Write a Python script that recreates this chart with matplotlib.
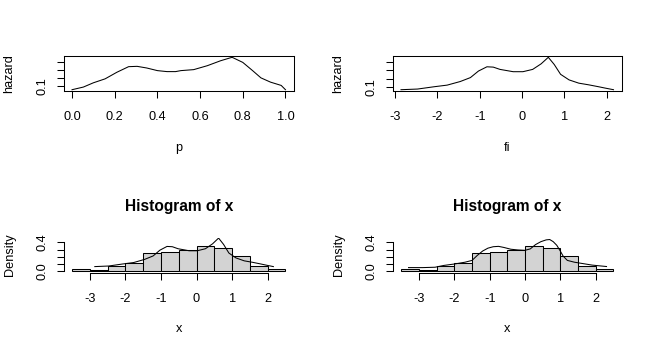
import matplotlib
matplotlib.use("Agg")
import matplotlib.pyplot as plt
import numpy as np

plt.rcParams['font.family'] = ['Liberation Sans', 'DejaVu Sans']

# ---- data ----
p = [0.0, 0.053, 0.10, 0.155, 0.21, 0.265, 0.305, 0.35, 0.40, 0.445, 0.485,
     0.51, 0.57, 0.634, 0.696, 0.75, 0.80, 0.846, 0.885, 0.93, 0.98, 1.0]
hazard_p = [0.06, 0.092, 0.144, 0.192, 0.272, 0.34, 0.344, 0.324, 0.292, 0.28, 0.28,
            0.292, 0.304, 0.352, 0.412, 0.454, 0.392, 0.292, 0.204, 0.152, 0.112, 0.06]

fi = [-2.86, -2.47, -2.08, -1.77, -1.46, -1.22, -1.03, -0.83, -0.68, -0.52, -0.21,
      0.02, 0.25, 0.45, 0.62, 0.76, 0.91, 1.11, 1.34, 1.57, 1.81, 1.96, 2.16]
hazard_fi = [0.064, 0.072, 0.10, 0.12, 0.164, 0.212, 0.292, 0.344, 0.34, 0.312, 0.284,
             0.284, 0.312, 0.38, 0.46, 0.372, 0.252, 0.184, 0.144, 0.124, 0.10, 0.084, 0.064]

hist_breaks = [-3.5, -3.0, -2.5, -2.0, -1.5, -1.0, -0.5, 0.0, 0.5, 1.0, 1.5, 2.0, 2.5]
hist_density = [0.024, 0.02, 0.076, 0.12, 0.247, 0.262, 0.29, 0.345, 0.316, 0.209, 0.078, 0.024]

x2 = [-3.3, -2.9, -2.55, -2.3, -2.0, -1.7, -1.5, -1.35, -1.2, -1.05, -0.9, -0.75, -0.6,
      -0.4, -0.2, 0.0, 0.15, 0.3, 0.45, 0.6, 0.7, 0.8, 0.9, 1.0, 1.08, 1.2, 1.4, 1.65,
      1.9, 2.1, 2.31]
dens2 = [0.05, 0.05, 0.055, 0.08, 0.1, 0.125, 0.15, 0.22, 0.28, 0.32, 0.34, 0.345, 0.33,
         0.305, 0.295, 0.29, 0.31, 0.37, 0.41, 0.435, 0.44, 0.41, 0.36, 0.28, 0.21, 0.15,
         0.125, 0.105, 0.085, 0.075, 0.065]

top_xticks_p = [0.0, 0.2, 0.4, 0.6, 0.8, 1.0]
top_xticks_fi = [-3, -2, -1, 0, 1, 2]
top_yticks = [0.1, 0.2, 0.3, 0.4]
top_ylabels = ["0.1", "", "", ""]
hist_xticks = [-3, -2, -1, 0, 1, 2]
hist_yticks = [0.0, 0.1, 0.2, 0.3, 0.4]
hist_ylabels = ["0.0", "", "", "", "0.4"]

# ---- layout ----
W, H = 655, 354
fig = plt.figure(figsize=(W / 100, H / 100), dpi=100)
FS = 9.2
LW = 0.75


def ax_px(x0, y0, x1, y1):
    return fig.add_axes([x0 / W, 1 - y1 / H, (x1 - x0) / W, (y1 - y0) / H])


def style(ax, box=True):
    for s in ax.spines.values():
        s.set_linewidth(LW)
    if not box:
        ax.spines['top'].set_visible(False)
        ax.spines['right'].set_visible(False)
    ax.tick_params(length=5, width=LW, labelsize=FS, direction='out')
    ax.tick_params(axis='x', pad=9.5)
    ax.tick_params(axis='y', pad=6)
    ax.patch.set_alpha(0)


def labels(ax, xlabel, ylabel, h_px, w_px):
    ax.set_xlabel(xlabel, fontsize=FS)
    ax.set_ylabel(ylabel, fontsize=FS)
    ax.xaxis.set_label_coords(0.5, -57 / h_px)
    ax.xaxis.label.set_va('center')
    ax.yaxis.set_label_coords(-54 / w_px, 0.5)
    ax.yaxis.label.set_va('center')
    ax.yaxis.label.set_ha('center')


def rot_ylabels(ax, ticks, labs):
    ax.set_yticks(ticks)
    ax.set_yticklabels(labs, rotation=90, va='center', ha='right')


# top-left
ax1 = ax_px(63.5, 56, 294, 91)
ax1.plot(p, hazard_p, color='black', lw=LW)
ax1.margins(x=0.04, y=0.04)
ax1.set_xticks(top_xticks_p)
ax1.set_xticklabels([f"{v:.1f}" for v in top_xticks_p])
rot_ylabels(ax1, top_yticks, top_ylabels)
style(ax1)
labels(ax1, "p", "hazard", 35, 230.5)

# top-right
ax2 = ax_px(392.5, 56, 622, 91)
ax2.plot(fi, hazard_fi, color='black', lw=LW)
ax2.margins(x=0.04, y=0.04)
ax2.set_xticks(top_xticks_fi)
ax2.set_xticklabels([str(v) for v in top_xticks_fi])
rot_ylabels(ax2, top_yticks, top_ylabels)
style(ax2)
labels(ax2, "fi", "hazard", 35, 229.5)


def hist_panel(ax, cx, cy, w_px):
    lefts = hist_breaks[:-1]
    widths = np.diff(hist_breaks)
    ax.bar(lefts, hist_density, width=widths, align='edge', color='#D3D3D3',
           edgecolor='black', linewidth=LW)
    ax.plot(cx, cy, color='black', lw=LW)
    ax.set_xlim(hist_breaks[0] - 0.04 * (hist_breaks[-1] - hist_breaks[0]),
                hist_breaks[-1] + 0.04 * (hist_breaks[-1] - hist_breaks[0]))
    ytop = 0.45
    ax.set_ylim(-0.04 * ytop, 1.04 * ytop)
    ax.set_xticks(hist_xticks)
    ax.set_xticklabels([str(v) for v in hist_xticks])
    rot_ylabels(ax, hist_yticks, hist_ylabels)
    style(ax, box=False)
    ax.spines['bottom'].set_bounds(hist_xticks[0], hist_xticks[-1])
    ax.spines['left'].set_bounds(hist_yticks[0], hist_yticks[-1])
    labels(ax, "x", "Density", 35, w_px)
    ax.text(0.5, 1 + 30.8 / 35, "Histogram of x", transform=ax.transAxes,
            fontsize=11.2, fontweight='bold', ha='center', va='center')


ax3 = ax_px(63.5, 237.5, 294, 272.5)
hist_panel(ax3, fi, hazard_fi, 230.5)

ax4 = ax_px(393, 237.5, 621.7, 272.5)
hist_panel(ax4, x2, dens2, 228.7)

fig.savefig("out.png", dpi=100, facecolor='white')
